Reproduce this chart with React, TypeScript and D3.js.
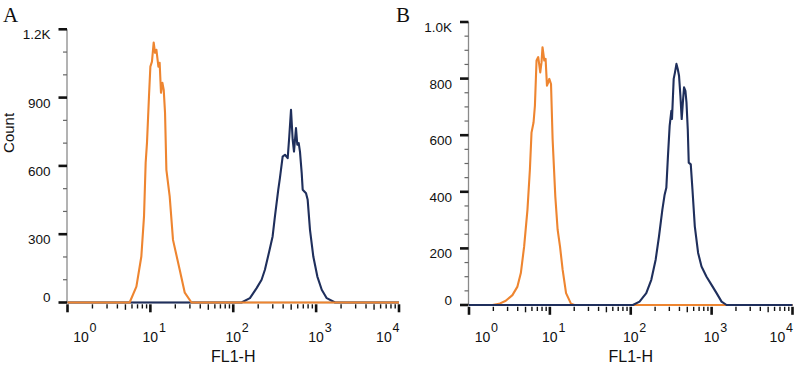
import React from 'react';
import * as d3 from 'd3';

// ---- data ----
const panelLabels = ['A', 'B'];
const xTickExponents = [0, 1, 2, 3, 4];
const xAxisTitle = 'FL1-H';
const yAxisTitle = 'Count';

const aYTicks = [0, 300, 600, 900, 1200];
const aYTickLabels = ['0', '300', '600', '900', '1.2K'];
const bYTicks = [0, 200, 400, 600, 800, 1000];
const bYTickLabels = ['0', '200', '400', '600', '800', '1.0K'];

// Panel A – control (orange)
const aOrangeX = [1, 5.62, 6.78, 7.78, 8.38, 8.77, 9.1, 9.62, 10.0, 10.45, 10.96, 11.38, 11.83, 12.5, 12.94, 13.43, 13.96, 14.49, 15.03, 15.6, 17.1, 18.75, 22.59, 26.0, 31.33, 10000];
const aOrangeY = [0, 0, 70, 202, 378, 613, 701, 905, 1036, 1058, 1142, 1097, 1110, 1036, 1053, 921, 965, 934, 833, 583, 466, 275, 144, 43, 0, 0];
// Panel A – stained (navy)
const aBlueX = [1, 125.9, 158.9, 191.4, 219.8, 241.0, 271.6, 298.5, 318.4, 349.1, 365.6, 394.5, 420.7, 453.9, 474.2, 497.7, 521.2, 540.8, 571.5, 592.9, 616.6, 638.3, 669.9, 688.7, 755.1, 790.7, 843.3, 924.7, 1035, 1169, 1343, 1694, 10000];
const aBlueY = [0, 0, 19, 63, 100, 144, 224, 290, 378, 495, 546, 641, 649, 634, 729, 846, 715, 663, 766, 693, 700, 663, 568, 495, 480, 451, 319, 202, 114, 56, 19, 0, 0];

// Panel B – control (orange)
const bOrangeX = [1, 1.945, 2.355, 2.851, 3.443, 3.972, 4.375, 4.808, 5.284, 5.662, 5.929, 6.281, 6.531, 6.839, 7.178, 7.603, 7.889, 8.11, 8.531, 8.851, 9.204, 9.55, 9.84, 10.33, 10.81, 11.67, 12.47, 13.34, 14.39, 15.85, 18.28, 20.09, 10000];
const bOrangeY = [0, 0, 4, 15, 35, 65, 113, 207, 337, 479, 609, 645, 704, 864, 876, 822, 858, 911, 864, 870, 775, 787, 799, 781, 586, 384, 266, 207, 124, 42, 4, 0, 0];
// Panel B – stained (navy)
const bBlueX = [1, 106.2, 128.5, 155.6, 179.5, 203.2, 223.4, 246.0, 262.4, 275.4, 288.4, 302.7, 317.7, 323.6, 339.6, 352.4, 367.3, 381.1, 395.4, 411.1, 426.6, 442.6, 456.0, 474.2, 488.7, 507.0, 521.2, 552.1, 579.4, 619.4, 680.8, 749.9, 865.0, 997.7, 1151, 1327, 1531, 10000];
const bBlueY = [0, 0, 12, 42, 89, 160, 242, 337, 390, 414, 526, 633, 686, 657, 799, 822, 852, 834, 810, 740, 657, 722, 769, 757, 716, 621, 503, 497, 408, 278, 184, 136, 100, 71, 42, 12, 0, 0];

const ORANGE = '#EE8530';
const NAVY = '#1F2F5C';
const SANS = '"Liberation Sans", Arial, sans-serif';
const SERIF = '"Liberation Serif", "Times New Roman", serif';

type Panel = {
  label: string;
  labelX: number;
  x0: number;
  x1: number;
  yBase: number;
  yTop: number;
  yMax: number;
  minorStep: number;
  ticks: number[];
  tickLabels: string[];
  showYTitle: boolean;
  series: { x: number[]; y: number[]; color: string }[];
};

const panels: Panel[] = [
  {
    label: panelLabels[0], labelX: 3,
    x0: 67.5, x1: 399, yBase: 302.5, yTop: 29.3, yMax: 1200, minorStep: 100,
    ticks: aYTicks, tickLabels: aYTickLabels, showYTitle: true,
    series: [
      { x: aBlueX, y: aBlueY, color: NAVY },
      { x: aOrangeX, y: aOrangeY, color: ORANGE },
    ],
  },
  {
    label: panelLabels[1], labelX: 396,
    x0: 469, x1: 792.5, yBase: 305, yTop: 22, yMax: 1000, minorStep: 50,
    ticks: bYTicks, tickLabels: bYTickLabels, showYTitle: false,
    series: [
      { x: bOrangeX, y: bOrangeY, color: ORANGE },
      { x: bBlueX, y: bBlueY, color: NAVY },
    ],
  },
];

function PanelView({ p }: { p: Panel }) {
  const xs = d3.scaleLog().domain([1, 1e4]).range([p.x0, p.x1]);
  const ys = d3.scaleLinear().domain([0, p.yMax]).range([p.yBase, p.yTop]);
  const minorY = d3.range(0, p.yMax + 1, p.minorStep).filter((v) => !p.ticks.includes(v));
  const minorX: number[] = [];
  for (let k = 0; k < 4; k++) for (let m = 2; m <= 9; m++) minorX.push(m * Math.pow(10, k));
  const axisX = p.x0 - 0.5;
  const tickTop = p.yBase + 1.8;

  return (
    <g>
      <text x={p.labelX} y={22} fontFamily={SERIF} fontSize={21} fill="#111">{p.label}</text>
      {p.showYTitle && (
        <text transform={`translate(13.5,${(p.yBase + p.yTop) / 2 - 33}) rotate(-90)`} textAnchor="middle"
          fontFamily={SANS} fontSize={15} fill="#111">{yAxisTitle}</text>
      )}
      {/* y axis */}
      <line x1={axisX} x2={axisX} y1={ys(p.yMax)} y2={p.yBase} stroke="#8a8a8a" strokeWidth={1.3} />
      {minorY.map((v) => (
        <line key={'my' + v} x1={axisX - 4} x2={axisX} y1={ys(v)} y2={ys(v)} stroke="#666" strokeWidth={1.2} />
      ))}
      {p.ticks.map((v, i) => (
        <g key={'y' + v}>
          <line x1={axisX - 8.5} x2={axisX} y1={ys(v)} y2={ys(v)} stroke="#111" strokeWidth={2.6} />
          <text x={axisX - 16.5} y={v === 0 ? ys(v) - 0.5 : ys(v) + 10} textAnchor="end"
            fontFamily={SANS} fontSize={13.5} fill="#111">{p.tickLabels[i]}</text>
        </g>
      ))}
      {/* x axis */}
      <line x1={p.x0} x2={p.x1} y1={p.yBase} y2={p.yBase} stroke="#8a8a8a" strokeWidth={1.3} />
      {minorX.map((v) => (
        <line key={'mx' + v} x1={xs(v)} x2={xs(v)} y1={tickTop} y2={tickTop + (v / Math.pow(10, Math.floor(Math.log10(v) + 1e-9)) === 5 ? 5.5 : 4.2)}
          stroke="#111" strokeWidth={1.4} />
      ))}
      {xTickExponents.map((e, i) => {
        const tx = xs(Math.pow(10, e));
        let baseX: number;
        if (i === 0) baseX = tx + 6 + 7.6;
        else if (i === xTickExponents.length - 1) baseX = tx - 7.5 - 7.6;
        else baseX = tx;
        return (
          <g key={'x' + e}>
            <line x1={tx} x2={tx} y1={tickTop} y2={tickTop + 8} stroke="#111" strokeWidth={2.6} />
            <text x={baseX} y={342} textAnchor="middle" fontFamily={SANS} fontSize={14} fill="#111">10</text>
            <text x={baseX + 8.5} y={331.5} textAnchor="start" fontFamily={SANS} fontSize={12.5} fill="#111">{e}</text>
          </g>
        );
      })}
      <text x={(p.x0 + p.x1) / 2} y={362} textAnchor="middle" fontFamily={SANS} fontSize={16} fill="#111">{xAxisTitle}</text>
      {/* histograms */}
      {p.series.map((s, si) => {
        const pts: [number, number][] = s.x.map((xv, j) => [xs(xv), ys(s.y[j])]);
        const path = d3.line()(pts) || '';
        return <path key={si} d={path} fill="none" stroke={s.color} strokeWidth={2.1} strokeLinejoin="round" />;
      })}
    </g>
  );
}

export default function App() {
  return (
    <svg width={800} height={380} viewBox="0 0 800 380"
      style={{ position: 'absolute', left: 0, top: 0, background: '#fff' }}>
      <rect x={0} y={0} width={800} height={380} fill="#fff" />
      {panels.map((p) => <PanelView key={p.label} p={p} />)}
    </svg>
  );
}
